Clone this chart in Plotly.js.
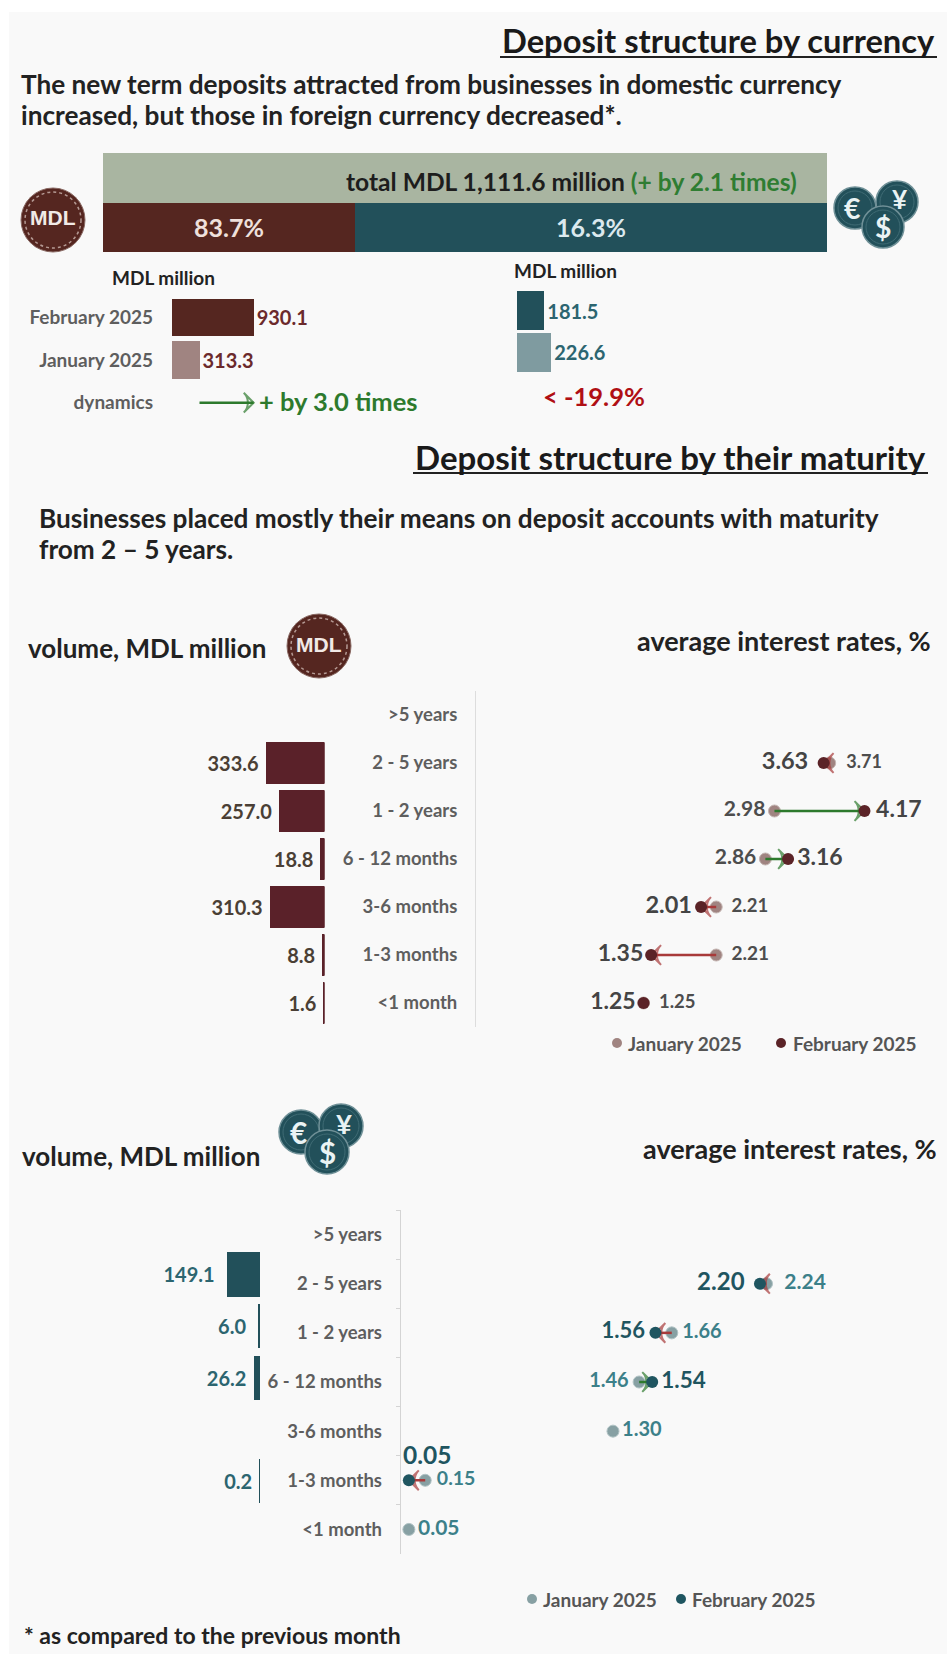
<!DOCTYPE html>
<html><head><meta charset="utf-8">
<script src="https://cdn.plot.ly/plotly-3.0.1.min.js"></script>
<style>html,body{margin:0;padding:0;background:#fff;overflow:hidden;width:949px;height:1654px}#c{width:949px;height:1654px;overflow:hidden}</style>
</head><body><div id="c"></div>
<script>
// ---------- data ----------
const shareWidths = [34.8, 65.2];           // drawn widths of the two segments
const shareLabels = ['83.7%', '16.3%'];
const monthCats = ['February 2025', 'January 2025', 'dynamics'];
const mdlVolume = [930.1, 313.3];
const fxVolume = [181.5, 226.6];
const maturities = ['>5 years', '2 - 5 years', '1 - 2 years', '6 - 12 months', '3-6 months', '1-3 months', '<1 month'];
const mdlMaturityVol = [null, 333.6, 257.0, 18.8, 310.3, 8.8, 1.6];
const mdlRateJan = [null, 3.71, 2.98, 2.86, 2.21, 2.21, 1.25];
const mdlRateFeb = [null, 3.63, 4.17, 3.16, 2.01, 1.35, 1.25];
const fxMaturityVol = [null, 149.1, 6.0, 26.2, null, 0.2, null];
const fxRateJan = [null, 2.24, 1.66, 1.46, 1.30, 0.15, 0.05];
const fxRateFeb = [null, 2.20, 1.56, 1.54, null, 0.05, null];

// ---------- label styling, per row ----------
const mdlJanPos = ['', 'middle right', 'middle left', 'middle left', 'middle right', 'middle right', 'middle right'];
const mdlFebPos = ['', 'middle left', 'middle right', 'middle right', 'middle left', 'middle left', 'middle left'];
const fxJanPos = ['', 'middle right', 'middle right', 'middle left', 'middle right', 'middle right', 'middle right'];
const fxFebPos = ['', 'middle left', 'middle left', 'middle right', '', '', ''];
const mdlJanSize = [18, 18, 21, 21, 18.5, 19, 18.5], mdlJanGap = [13, 25, 13, 13, 23, 23, 23];
const mdlFebSize = [22, 23.5, 23, 23, 23.5, 23, 23], mdlFebGap = [13, 23, 17, 13, 13, 11, 11];
const fxJanSize = [18, 21, 20, 20, 20, 19.5, 21], fxJanGap = [13, 27, 15, 15, 13, 17, 13];
const fxFebSize = [22, 24, 22, 22.5, 22, 24, 22], fxFebGap = [13, 23, 15, 13, 13, 13, 13];
const mdlVolPad = [0, 1, 1, 1, 1, 1, 1];
const fxVolPad = [0, 2, 2, 1, 0, 1, 0];

// ---------- helpers ----------
const W = 949, H = 1654, FONT = 'Lato, sans-serif';
const BROWN = '#552620', TEAL = '#22505a', GREEN = '#2d7a2d', REDDOWN = '#a83a3a';
const px = v => v / W, py = v => 1 - v / H;
const domX = (a, b) => [px(a), px(b)];
const domY = (top, bot) => [py(bot), py(top)];
const hiddenAxis = o => Object.assign({visible:false, fixedrange:true}, o);
const annotations = [], shapes = [];
function txt(text, x, y, anchor, size, color, family) {
  annotations.push({text:'<b>' + text + '</b>', xref:'paper', yref:'paper', x:px(x), y:py(y),
    xanchor:anchor, yanchor:'middle', showarrow:false, font:{family:family || FONT, size:size, color:color}});
}
function circle(cx, cy, r, fill, line, lw, dash) {
  shapes.push({type:'circle', xref:'paper', yref:'paper', x0:px(cx-r), x1:px(cx+r), y0:py(cy+r), y1:py(cy-r),
    fillcolor:fill, line:{color:line, width:lw, dash:dash || 'solid'}, layer:'above'});
}
function mdlCoin(cx, cy) {
  circle(cx, cy, 32, BROWN, '#8a6a64', 1);
  circle(cx, cy, 28, 'rgba(0,0,0,0)', '#b59a94', 1.5, 'dot');
  txt('MDL', cx, cy-2, 'center', 21, '#f1e9e6', '"Liberation Sans", sans-serif');
}
function fxCoins(ex, ey, yx, yy, dx, dy, r) {
  [[ex,ey],[yx,yy],[dx,dy]].forEach(c => {
    circle(c[0], c[1], r, TEAL, '#6f9097', 1.5);
    circle(c[0], c[1], r-4, 'rgba(0,0,0,0)', '#3f6b74', 1);
  });
  txt('€', ex-3, ey, 'center', r*1.35, '#eaf3f4');
  txt('¥', yx+3, yy-3, 'center', r*1.25, '#eaf3f4');
  txt('$', dx, dy, 'center', r*1.35, '#eaf3f4');
}
function underline(x0, x1, y) {
  shapes.push({type:'line', xref:'paper', yref:'paper', x0:px(x0), x1:px(x1), y0:py(y), y1:py(y), line:{color:'#222', width:2}});
}
function legendItem(cx, cy, color, label, tx) {
  shapes.push({type:'circle', xref:'paper', yref:'paper', x0:px(cx-5), x1:px(cx+5), y0:py(cy+5), y1:py(cy-5), fillcolor:color, line:{width:0}});
  txt(label, tx, cy, 'left', 19, '#555');
}
const fmt1 = (a, pad) => a.map((v, i) => v == null ? '' : v.toFixed(1) + (pad ? '\u00a0'.repeat(pad[i]) : ''));

// ---------- traces ----------
const traces = [];
traces.push({type:'bar', orientation:'h', x:[100], y:['total'], xaxis:'x', yaxis:'y', width:1, marker:{color:'#a9b5a1'}, showlegend:false, hoverinfo:'skip'});
shareWidths.forEach((w, i) => traces.push({type:'bar', orientation:'h', x:[w], y:['share'], xaxis:'x', yaxis:'y', width:1,
  marker:{color:[BROWN, TEAL][i]}, text:[shareLabels[i]], textposition:'inside', insidetextanchor:'middle', constraintext:'none',
  textfont:{family:FONT, size:25, color:['#efe0dc','#dbe9ee'][i], weight:'bold'}, showlegend:false, hoverinfo:'skip'}));

traces.push({type:'bar', orientation:'h', x:mdlVolume, y:monthCats.slice(0,2), xaxis:'x2', yaxis:'y2', width:0.88,
  marker:{color:[BROWN, '#a08481']}, text:fmt1(mdlVolume), textposition:'outside', cliponaxis:false, constraintext:'none',
  outsidetextfont:{family:FONT, size:20, color:'#6b2a2c', weight:'bold'}, showlegend:false, hoverinfo:'skip'});
traces.push({type:'scatter', mode:'lines+markers', x:mdlVolume.slice().reverse(), y:['dynamics','dynamics'], xaxis:'x2', yaxis:'y2',
  line:{color:GREEN, width:2.5}, cliponaxis:false,
  marker:{size:[0,14], symbol:'arrow-wide-open', angleref:'previous', color:GREEN, line:{color:GREEN, width:2}},
  showlegend:false, hoverinfo:'skip'});
annotations.push({text:'<b>+ by 3.0 times</b>', xref:'x2', yref:'y2', x:mdlVolume[0], y:'dynamics', xanchor:'left', yanchor:'middle',
  xshift:3, yshift:2, showarrow:false, font:{family:FONT, size:25.5, color:GREEN}});
traces.push({type:'bar', orientation:'h', x:fxVolume, y:monthCats.slice(0,2), xaxis:'x3', yaxis:'y3', width:0.95,
  marker:{color:[TEAL, '#7f9ba0']}, text:fmt1(fxVolume), textposition:'outside', cliponaxis:false, constraintext:'none',
  outsidetextfont:{family:FONT, size:20, color:'#2c6570', weight:'bold'}, showlegend:false, hoverinfo:'skip'});

function maturityPanel(o) {
  traces.push({type:'bar', orientation:'h', x:o.vol, y:maturities, xaxis:o.xb, yaxis:o.yb, width:o.bw,
    marker:{color:o.barColor, line:{color:o.barColor, width:1.5}}, text:fmt1(o.vol, o.pad), textposition:'outside', cliponaxis:false, constraintext:'none',
    outsidetextfont:{family:FONT, size:20, color:o.volText, weight:'bold'}, showlegend:false, hoverinfo:'skip'});
  traces.push({type:'scatter', mode:'markers', name:'January 2025', x:o.jan, y:maturities, xaxis:o.xr, yaxis:o.yr, cliponaxis:false,
    marker:{size:12, color:o.janColor, line:{color:o.janLine, width:1}}, showlegend:false, hoverinfo:'skip'});
  o.jan.forEach((j, i) => {
    const f = o.feb[i];
    if (j == null || f == null || j === f) return;
    const c = f > j ? GREEN : REDDOWN;
    traces.push({type:'scatter', mode:'lines+markers', x:[j, f], y:[maturities[i], maturities[i]], xaxis:o.xr, yaxis:o.yr, cliponaxis:false,
      line:{color:c, width:2.5}, marker:{size:[0,14], symbol:'arrow-wide-open', angleref:'previous', color:c, line:{color:c, width:2}},
      showlegend:false, hoverinfo:'skip'});
  });
  traces.push({type:'scatter', mode:'markers', name:'February 2025', x:o.feb, y:maturities, xaxis:o.xr, yaxis:o.yr, cliponaxis:false,
    marker:{size:12, color:o.febColor}, showlegend:false, hoverinfo:'skip'});
  [[o.jan, o.janPos, o.janSize, o.janGap, o.janText],[o.feb, o.febPos, o.febSize, o.febGap, o.febText]].forEach(s => {
    traces.push({type:'scatter', mode:'markers+text', x:s[0], y:maturities, xaxis:o.xr, yaxis:o.yr, cliponaxis:false,
      marker:{size:s[3], opacity:0}, text:s[0].map((v, i) => s[1][i] ? v.toFixed(2) : ''), textposition:s[1].map(p => p || 'middle right'),
      textfont:{family:FONT, size:s[2], color:s[4], weight:'bold'}, showlegend:false, hoverinfo:'skip'});
  });
}
maturityPanel({vol:mdlMaturityVol, jan:mdlRateJan, feb:mdlRateFeb, janPos:mdlJanPos, febPos:mdlFebPos,
  janSize:mdlJanSize, janGap:mdlJanGap, febSize:mdlFebSize, febGap:mdlFebGap, pad:mdlVolPad,
  xb:'x4', yb:'y4', xr:'x5', yr:'y4', bw:0.83, barColor:'#5a2129', volText:'#4a3f35',
  janColor:'#a08481', janLine:'#c4b5b2', febColor:'#5b2327', janText:'#4d4d4d', febText:'#444'});
maturityPanel({vol:fxMaturityVol, jan:fxRateJan, feb:fxRateFeb, janPos:fxJanPos, febPos:fxFebPos,
  janSize:fxJanSize, janGap:fxJanGap, febSize:fxFebSize, febGap:fxFebGap, pad:fxVolPad,
  xb:'x6', yb:'y6', xr:'x7', yr:'y7', bw:0.83, barColor:TEAL, volText:'#2c6570',
  janColor:'#87a0a3', janLine:'#b0c2c4', febColor:'#1f5560', janText:'#3c8089', febText:'#1f5560'});

// the February 1-3 months label stands above its dot
annotations.push({text:'<b>' + fxRateFeb[5].toFixed(2) + '</b>', xref:'x7', yref:'y7', x:fxRateFeb[5], y:maturities[5],
  xanchor:'left', yanchor:'bottom', xshift:-8, yshift:9, showarrow:false, font:{family:FONT, size:24.5, color:'#1f5560'}});

// ---------- static text and decoration ----------
shapes.push({type:'rect', xref:'paper', yref:'paper', x0:px(9), x1:px(947), y0:0, y1:py(12), fillcolor:'#f9f9f9', line:{width:0}, layer:'below'});
txt('Deposit structure by currency', 937, 41, 'right', 32.7, '#1a1a1a');
underline(500, 937, 57);
txt('The new term deposits attracted from businesses in domestic currency', 19, 84, 'left', 26.2, '#222');
txt('increased, but those in foreign currency decreased*.', 19, 115, 'left', 26.2, '#222');
annotations.push({text:'<b>total MDL 1,111.6 million <span style="color:#2f7d32">(+ by 2.1 times)</span></b>', xref:'paper', yref:'paper',
  x:px(799), y:py(181), xanchor:'right', yanchor:'middle', showarrow:false, font:{family:FONT, size:24.6, color:'#1d1d1d'}});
txt('MDL million', 110, 277, 'left', 19, '#222');
txt('MDL million', 512, 271, 'left', 19, '#222');
txt('< -19.9%', 541, 396, 'left', 25.5, '#b00f14');
txt('Deposit structure by their maturity', 928, 457, 'right', 33, '#1a1a1a');
underline(413, 928, 473);
txt('Businesses placed mostly their means on deposit accounts with maturity', 37, 518, 'left', 26.2, '#222');
txt('from 2 – 5 years.', 37, 549, 'left', 26.2, '#222');
txt('volume, MDL million', 26, 648, 'left', 26, '#222');
txt('average interest rates, %', 933, 640, 'right', 27, '#222');
txt('volume, MDL million', 20, 1156, 'left', 26, '#222');
txt('average interest rates, %', 939, 1148, 'right', 27, '#222');
txt('* as compared to the previous month', 22, 1635, 'left', 23, '#222');
mdlCoin(53, 220);
mdlCoin(319, 646);
fxCoins(855, 208, 897, 202, 883, 227, 21);
fxCoins(301, 1132, 341, 1126, 327, 1152, 22);
legendItem(617, 1043, '#a08481', 'January 2025', 626);
legendItem(781, 1043, '#5b2327', 'February 2025', 791);
legendItem(532, 1599, '#87a0a3', 'January 2025', 540.5);
legendItem(681, 1599, '#1f5560', 'February 2025', 690);

const monthTickFont = {family:FONT, size:19, color:'#5e5e5e', weight:'bold'};
const tickFont = {family:FONT, size:18.5, color:'#5e5e5e', weight:'bold'};
const layout = {
  width:W, height:H, margin:{l:0, r:0, t:0, b:0, pad:0}, paper_bgcolor:'#ffffff', plot_bgcolor:'rgba(0,0,0,0)',
  barmode:'stack', showlegend:false, font:{family:FONT},
  shapes:shapes, annotations:annotations,
  xaxis:hiddenAxis({domain:domX(103,827), range:[0,100], anchor:'y'}),
  yaxis:hiddenAxis({domain:domY(153,252), type:'category', categoryorder:'array', categoryarray:['share','total'], anchor:'x', range:[-0.5,1.5]}),
  xaxis2:hiddenAxis({domain:domX(172,272), range:[0,1139], anchor:'y2'}),
  yaxis2:{domain:domY(296,424), type:'category', categoryorder:'array', categoryarray:monthCats, range:[2.5,-0.5], anchor:'x2',
    showline:false, showgrid:false, zeroline:false, ticks:'', ticklabelstandoff:18, tickfont:monthTickFont, fixedrange:true},
  xaxis3:hiddenAxis({domain:domX(516.5,616.5), range:[0,653], anchor:'y3'}),
  yaxis3:hiddenAxis({domain:domY(290,373), type:'category', categoryorder:'array', categoryarray:monthCats.slice(0,2), range:[1.5,-0.5], anchor:'x3'}),
  xaxis4:hiddenAxis({domain:domX(200,324.5), range:[715.5,0], anchor:'y4'}),
  xaxis5:hiddenAxis({domain:domX(476,930), range:[-0.965,5.036], anchor:'y4'}),
  yaxis4:{domain:domY(691,1027), type:'category', categoryorder:'array', categoryarray:maturities, range:[6.5,-0.5], anchor:'x5',
    showline:true, linecolor:'#dddddd', linewidth:1, showgrid:false, zeroline:false, ticks:'', ticklabelstandoff:14, tickfont:tickFont, fixedrange:true},
  xaxis6:hiddenAxis({domain:domX(120,260), range:[639,0], anchor:'y6'}),
  yaxis6:hiddenAxis({domain:domY(1197,1558.6), type:'category', categoryorder:'array', categoryarray:maturities, range:[6.5,-0.5], anchor:'x6'}),
  xaxis7:hiddenAxis({domain:domX(400.7,936), range:[0,3.278], anchor:'y7'}),
  yaxis7:{domain:domY(1210,1554), type:'category', categoryorder:'array', categoryarray:maturities, range:[6.5,-0.5], anchor:'x7',
    showline:true, linecolor:'#d4d4d4', linewidth:1, showgrid:false, zeroline:false, ticks:'outside', tickson:'boundaries', ticklen:4, tickcolor:'#d4d4d4',
    ticklabelstandoff:14, tickfont:tickFont, fixedrange:true}
};
Plotly.newPlot('c', traces, layout, {displayModeBar:false, staticPlot:true});
</script></body></html>
